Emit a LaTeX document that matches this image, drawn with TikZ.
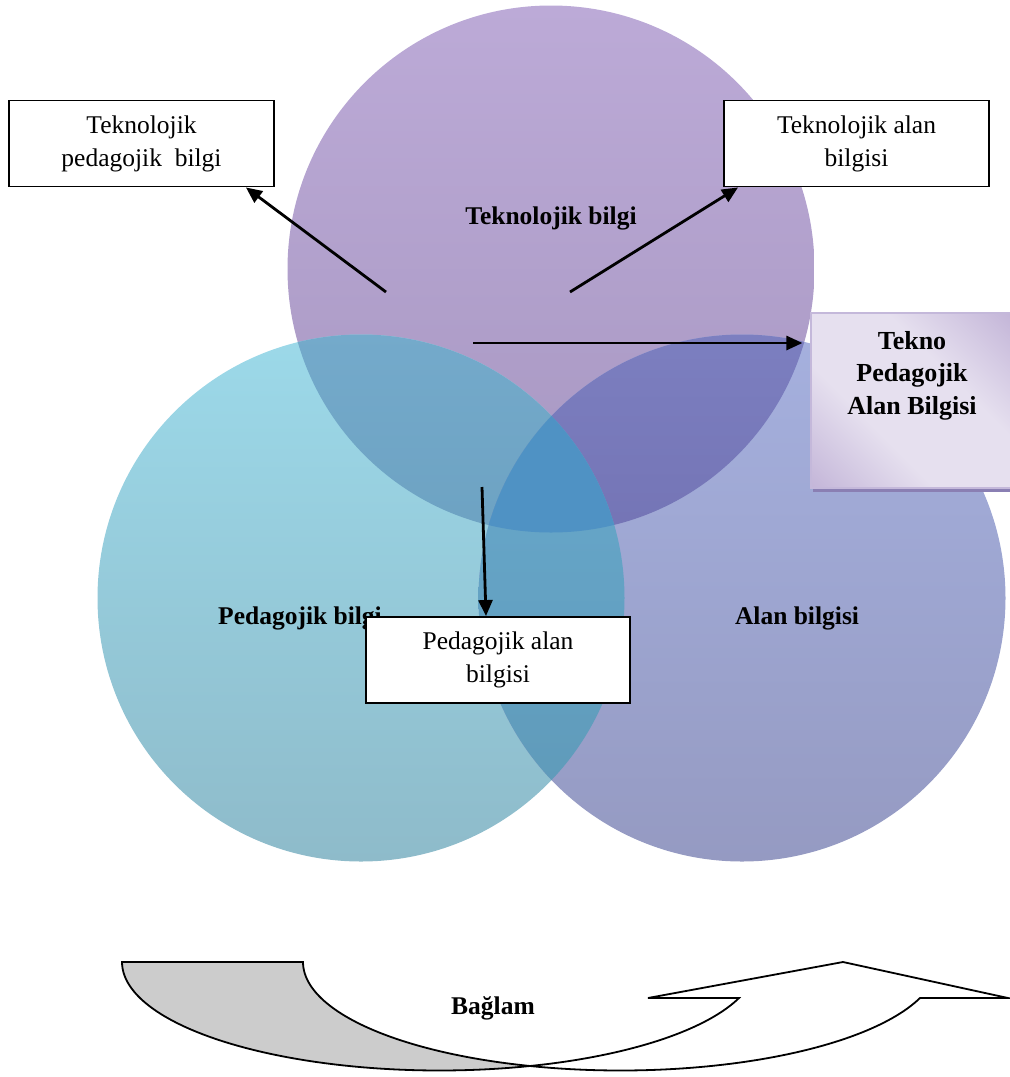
\documentclass[tikz,border=0pt]{standalone}
\usepackage{fontspec}
\setmainfont{Liberation Serif}
\usetikzlibrary{arrows.meta,calc}

% circle colours (top / bottom of each vertical gradient)
\definecolor{techtop}{HTML}{BCAAD7}
\definecolor{techbot}{HTML}{A797C1}
\definecolor{pedtop}{HTML}{9CD9E9}
\definecolor{pedbot}{HTML}{8EBBCA}
\definecolor{contop}{HTML}{A5B0DE}
\definecolor{conbot}{HTML}{959AC2}
% overlaps
\definecolor{tptop}{HTML}{74AACB}
\definecolor{tpbot}{HTML}{6DA2C2}
\definecolor{tctop}{HTML}{7C7FC0}
\definecolor{tcbot}{HTML}{7474B5}
\definecolor{pctop}{HTML}{69ABD0}
\definecolor{pcbot}{HTML}{5E98B6}
\definecolor{allc}{HTML}{4F92C4}
% TPACK box
\definecolor{tpabdark}{HTML}{AE9BCA}
\definecolor{tpablight}{HTML}{E6E0EF}
\definecolor{tpabedge}{HTML}{C4B8DA}
\definecolor{tpabshadow}{HTML}{8A7FB3}
\definecolor{ctxgray}{HTML}{CCCCCC}

\pgfdeclarehorizontalshading{tpabshade}{100bp}{color(0bp)=(tpabdark); color(38bp)=(tpablight); color(62bp)=(tpablight); color(100bp)=(tpabdark)}

\begin{document}
\begin{tikzpicture}[x=1pt,y=-1pt,
  lbl/.style={font=\bfseries\fontsize{25.5}{31}\selectfont, inner sep=0pt, anchor=base},
  infobox/.style={draw=black, line width=1.9pt, fill=white, align=center,
    font=\fontsize{25.5}{33}\selectfont, inner sep=0pt},
  link/.style={line width=2.8pt, -{Triangle[length=16pt,width=14pt]}},
  ctx/.style={draw=black, line width=1.8pt}]
\useasboundingbox (0,0) rectangle (1010,1077);

\def\R{263.5pt}
\coordinate (T) at (551,269);
\coordinate (P) at (361,598);
\coordinate (C) at (742,598);

% three knowledge circles
\shade[top color=techtop,bottom color=techbot] (T) circle[radius=\R];
\shade[top color=pedtop,bottom color=pedbot] (P) circle[radius=\R];
\shade[top color=contop,bottom color=conbot] (C) circle[radius=\R];

% pairwise overlaps
\begin{scope}
  \clip (T) circle[radius=\R];
  \clip (P) circle[radius=\R];
  \shade[top color=tptop,bottom color=tpbot] (90,330) rectangle (640,540);
\end{scope}
\begin{scope}
  \clip (T) circle[radius=\R];
  \clip (C) circle[radius=\R];
  \shade[top color=tctop,bottom color=tcbot] (470,330) rectangle (1010,540);
\end{scope}
\begin{scope}
  \clip (P) circle[radius=\R];
  \clip (C) circle[radius=\R];
  \shade[top color=pctop,bottom color=pcbot] (470,330) rectangle (640,870);
\end{scope}
% triple overlap
\begin{scope}
  \clip (T) circle[radius=\R];
  \clip (P) circle[radius=\R];
  \clip (C) circle[radius=\R];
  \fill[allc] (470,330) rectangle (640,540);
\end{scope}

% circle labels
\node[lbl] (tk) at (551,224) {Teknolojik bilgi};
\node[lbl] (pk) at (300,624) {Pedagojik bilgi};
\node[lbl] (ak) at (797,624) {Alan bilgisi};

% combined knowledge boxes
\node[infobox, minimum width=265pt, minimum height=86pt] (tpk) at (141.5,143.5)
  {Teknolojik\\pedagojik\ \ bilgi};
\node[infobox, minimum width=265pt, minimum height=86pt] (tck) at (856.5,143.5)
  {Teknolojik alan\\bilgisi};
\node[infobox, minimum width=264pt, minimum height=86pt] (pck) at (498,660)
  {Pedagojik alan\\bilgisi};

% TPACK box with shadow
\fill[tpabshadow] (813,318) rectangle (1013,492);
\node[draw=tpabedge, line width=1.2pt, shading=tpabshade, shading angle=45,
  minimum width=200pt, minimum height=175pt, inner sep=0pt] (tpab) at (911,400.5) {};
\node[font=\bfseries\fontsize{26}{32.5}\selectfont, align=center, inner sep=0pt,
  anchor=north] (tpabtext) at (912,331) {Tekno\\Pedagojik\\Alan Bilgisi};

% arrows from the circle overlaps to their boxes
\coordinate (s1) at (386,292);
\coordinate (s2) at (570,292);
\coordinate (s3) at (473,343);
\coordinate (s4) at (482,487);
\draw[link] (s1) -- ([xshift=-29pt]tpk.south east);
\draw[link] (s2) -- ([xshift=15pt]tck.south west);
\draw[link, shorten >=8pt] (s3) -- (s3 -| tpab.west);
\draw[link] (s4) -- ([xshift=-12pt]pck.north);

% context arrow (curved up arrow)
\def\cy{962}\def\rx{317.5}\def\ry{108.5}
\def\ca{439.5}\def\cb{620.5}
\filldraw[ctx, fill=ctxgray]
  plot[domain=180:73.4, samples=60] ({\ca+\rx*cos(\x)},{\cy+\ry*sin(\x)})
  -- plot[domain=106.6:180, samples=60] ({\cb+\rx*cos(\x)},{\cy+\ry*sin(\x)})
  -- cycle;
\filldraw[ctx, fill=white, line join=miter]
  plot[domain=73.4:19.4, samples=60] ({\ca+\rx*cos(\x)},{\cy+\ry*sin(\x)})
  -- (648,998) -- (843,962) -- (1008,998)
  -- plot[domain=19.4:106.6, samples=60] ({\cb+\rx*cos(\x)},{\cy+\ry*sin(\x)})
  -- cycle;
\node[lbl] (ctxlbl) at (493,1014) {Bağlam};
\end{tikzpicture}
\end{document}
